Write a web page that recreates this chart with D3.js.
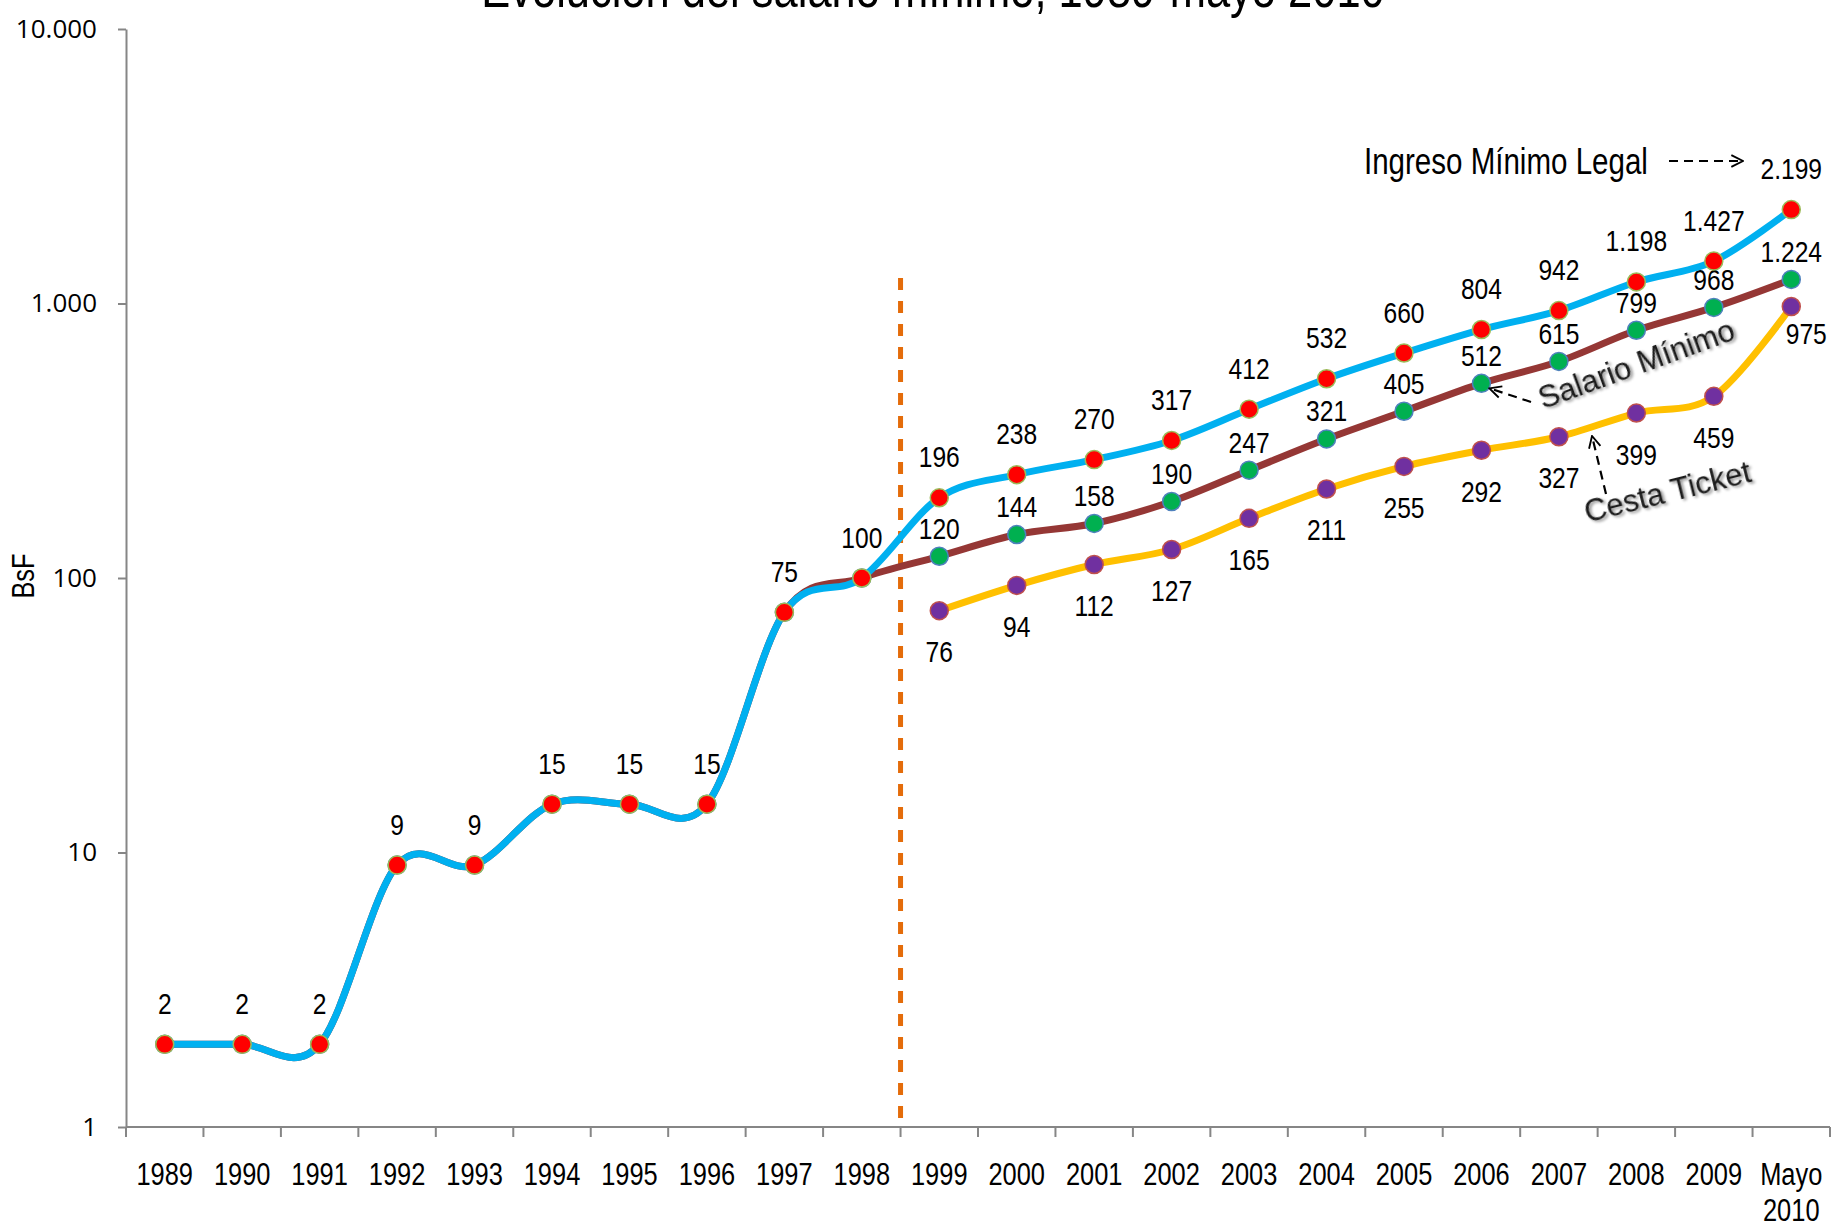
<!DOCTYPE html>
<html>
<head>
<meta charset="utf-8">
<script src="https://cdn.jsdelivr.net/npm/d3@7"></script>
<style>
  body { margin: 0; background: #fff; }
  text { font-family: "Liberation Sans", Arial, sans-serif; }
</style>
</head>
<body>
<svg id="chart" width="1833" height="1225"></svg>
<script>
// data (BsF, log scale)
var years = ["1989", "1990", "1991", "1992", "1993", "1994", "1995", "1996", "1997", "1998", "1999",
             "2000", "2001", "2002", "2003", "2004", "2005", "2006", "2007", "2008", "2009", "Mayo 2010"];
var ingresoMinimo = [2, 2, 2, 9, 9, 15, 15, 15, 75, 100, 196, 238, 270, 317, 412, 532, 660, 804, 942, 1198, 1427, 2199];
var salarioMinimo = [2, 2, 2, 9, 9, 15, 15, 15, 75, 100, 120, 144, 158, 190, 247, 321, 405, 512, 615, 799, 968, 1224];
var cestaTicket = [null, null, null, null, null, null, null, null, null, null, 76, 94, 112, 127, 165, 211, 255, 292, 327, 399, 459, 975];
var yTicks = [1, 10, 100, 1000, 10000];

var svg = d3.select("#chart"),
    width = 1833,
    height = 1225;

svg.append("rect").attr("width", width).attr("height", height).attr("fill", "#fff");

var plotLeft = 126, plotRight = 1830, plotTop = 29, plotBottom = 1127;

var x = d3.scaleBand().domain(years).range([plotLeft, plotRight]).padding(0),
    y = d3.scaleLog().domain([1, 10000]).range([plotBottom, plotTop]);

var es = d3.formatLocale({decimal: ",", thousands: ".", grouping: [3], currency: ["", ""]});
var fmt = es.format(",d");

function cx(c) { return x(c) + x.bandwidth() / 2; }

// title (partly cut off at the top, as in the original)
svg.append("text")
    .attr("class", "narrow")
    .attr("x", 933).attr("y", 7)
    .attr("text-anchor", "middle")
    .attr("font-size", 53)
    .attr("fill", "#000")
    .text("Evolución del salario mínimo, 1989-mayo 2010");

// y axis
var yAxis = d3.axisLeft(y)
    .tickValues(yTicks)
    .tickFormat(fmt)
    .tickSize(8)
    .tickSizeOuter(0)
    .tickPadding(21);

var gy = svg.append("g")
    .attr("transform", "translate(" + plotLeft + ",0)")
    .call(yAxis);
gy.select(".domain").attr("stroke", "#868686").attr("stroke-width", 2);
gy.selectAll(".tick line").attr("stroke", "#868686").attr("stroke-width", 2);
gy.selectAll(".tick text")
    .attr("font-size", 26)
    .attr("fill", "#000")
    .style("font-family", "'Open Sans', 'Noto Sans', sans-serif");

svg.append("text")
    .attr("class", "narrow")
    .attr("transform", "translate(34,576) rotate(-90)")
    .attr("text-anchor", "middle")
    .attr("font-size", 31)
    .text("BsF");

// x axis: line, ticks between categories, labels
svg.append("line")
    .attr("x1", plotLeft).attr("x2", plotRight)
    .attr("y1", plotBottom).attr("y2", plotBottom)
    .attr("stroke", "#868686").attr("stroke-width", 2);

svg.selectAll(".xtick")
    .data(years.concat(["end"]))
    .enter().append("line")
    .attr("class", "xtick")
    .attr("x1", function(d) { return d === "end" ? plotRight : x(d); })
    .attr("x2", function(d) { return d === "end" ? plotRight : x(d); })
    .attr("y1", plotBottom).attr("y2", plotBottom + 10)
    .attr("stroke", "#868686").attr("stroke-width", 2);

var xl = svg.selectAll(".xlabel")
    .data(years)
    .enter().append("text")
    .attr("class", "xlabel")
    .attr("text-anchor", "middle")
    .attr("font-size", 31);
xl.each(function(d) {
    var parts = d.split(" ");
    var t = d3.select(this);
    parts.forEach(function(p, i) {
        t.append("tspan")
            .attr("class", "narrow")
            .attr("x", cx(d))
            .attr("y", 1185 + i * 36)
            .text(p);
    });
});

// vertical dashed separator between 1998 and 1999
svg.append("line")
    .attr("x1", x("1999")).attr("x2", x("1999"))
    .attr("y1", 278).attr("y2", plotBottom)
    .attr("stroke", "#E46C0A")
    .attr("stroke-width", 5)
    .attr("stroke-dasharray", "12,11");

// series
var series = [
    {name: "Salario Mínimo", values: salarioMinimo, line: "#953735", fill: "#00B050", edge: "#4F81BD", labelDy: -28, labelFrom: 10},
    {name: "Cesta Ticket", values: cestaTicket, line: "#FFC000", fill: "#7030A0", edge: "#C0504D", labelDy: 41, labelFrom: 10},
    {name: "Ingreso Mínimo Legal", values: ingresoMinimo, line: "#00B0F0", fill: "#FF0000", edge: "#9BBB59", labelDy: -41, labelFrom: 0}
];

var line = d3.line()
    .defined(function(d) { return d.v != null; })
    .x(function(d) { return cx(d.c); })
    .y(function(d) { return y(d.v); })
    .curve(d3.curveCardinal.tension(0));

series.forEach(function(s) {
    s.points = years.map(function(c, i) { return {c: c, v: s.values[i], i: i}; })
        .filter(function(d) { return d.v != null; });
});

var gs = svg.selectAll(".series")
    .data(series)
    .enter().append("g")
    .attr("class", "series");

gs.append("path")
    .attr("d", function(s) { return line(s.points); })
    .attr("fill", "none")
    .attr("stroke", function(s) { return s.line; })
    .attr("stroke-width", 7)
    .attr("stroke-linecap", "round")
    .attr("stroke-linejoin", "round");

gs.each(function(s) {
    d3.select(this).selectAll("circle")
        .data(s.points)
        .enter().append("circle")
        .attr("cx", function(d) { return cx(d.c); })
        .attr("cy", function(d) { return y(d.v); })
        .attr("r", 9)
        .attr("fill", s.fill)
        .attr("stroke", s.edge)
        .attr("stroke-width", 1.5);
});

// data labels
gs.each(function(s) {
    var last = s.points[s.points.length - 1];
    d3.select(this).selectAll(".lbl")
        .data(s.points.filter(function(d) { return d.i >= s.labelFrom; }))
        .enter().append("text")
        .attr("class", "lbl narrow")
        .attr("x", function(d) { return cx(d.c) + (s.name === "Cesta Ticket" && d === last ? 15 : 0); })
        .attr("y", function(d) { return y(d.v) + (s.name === "Cesta Ticket" && d === last ? 27 : s.labelDy); })
        .attr("dy", "0.35em")
        .attr("text-anchor", "middle")
        .attr("font-size", 30)
        .attr("fill", "#000")
        .text(function(d) { return fmt(d.v); });
});

// annotations
var defs = svg.append("defs");
defs.append("marker")
    .attr("id", "arrow")
    .attr("viewBox", "0 0 12 12")
    .attr("refX", 11).attr("refY", 6)
    .attr("markerWidth", 14).attr("markerHeight", 14)
    .attr("markerUnits", "userSpaceOnUse")
    .attr("orient", "auto")
    .append("path")
    .attr("d", "M1,1 L11,6 L1,11")
    .attr("fill", "none")
    .attr("stroke", "#000")
    .attr("stroke-width", 1.6);

var shadow = defs.append("filter").attr("id", "soft")
    .attr("x", "-10%").attr("y", "-30%").attr("width", "120%").attr("height", "160%");
shadow.append("feGaussianBlur").attr("in", "SourceAlpha").attr("stdDeviation", 1.5).attr("result", "b");
shadow.append("feOffset").attr("in", "b").attr("dx", 1.5).attr("dy", 1.5).attr("result", "o");
shadow.append("feComponentTransfer").attr("in", "o").attr("result", "s")
    .append("feFuncA").attr("type", "linear").attr("slope", 0.45);
var merge = shadow.append("feMerge");
merge.append("feMergeNode").attr("in", "s");
merge.append("feMergeNode").attr("in", "SourceGraphic");

svg.append("text")
    .attr("class", "narrow")
    .attr("x", 1364).attr("y", 174)
    .attr("font-size", 36)
    .attr("fill", "#000")
    .text("Ingreso Mínimo Legal");

function arrow(x1, y1, x2, y2) {
    svg.append("line")
        .attr("x1", x1).attr("y1", y1).attr("x2", x2).attr("y2", y2)
        .attr("stroke", "#000")
        .attr("stroke-width", 2.2)
        .attr("stroke-dasharray", "9,6")
        .attr("marker-end", "url(#arrow)");
}

arrow(1669, 161, 1743, 161);
arrow(1531, 402, cx("2006") + 8, y(512) + 5);
arrow(1606, 494, 1592, 436);

svg.append("text")
    .attr("transform", "translate(1640,374) rotate(-20)")
    .attr("text-anchor", "middle")
    .attr("font-size", 31)
    .attr("fill", "#1a1a1a")
    .attr("filter", "url(#soft)")
    .text("Salario Mínimo");

svg.append("text")
    .attr("transform", "translate(1670,502) rotate(-14)")
    .attr("text-anchor", "middle")
    .attr("font-size", 31)
    .attr("fill", "#1a1a1a")
    .attr("filter", "url(#soft)")
    .text("Cesta Ticket");

// no narrow font installed: squeeze the regular face horizontally
svg.selectAll(".narrow").each(function() {
    var w = this.getComputedTextLength();
    d3.select(this)
        .attr("textLength", w * 0.82)
        .attr("lengthAdjust", "spacingAndGlyphs");
});
</script>
</body>
</html>
